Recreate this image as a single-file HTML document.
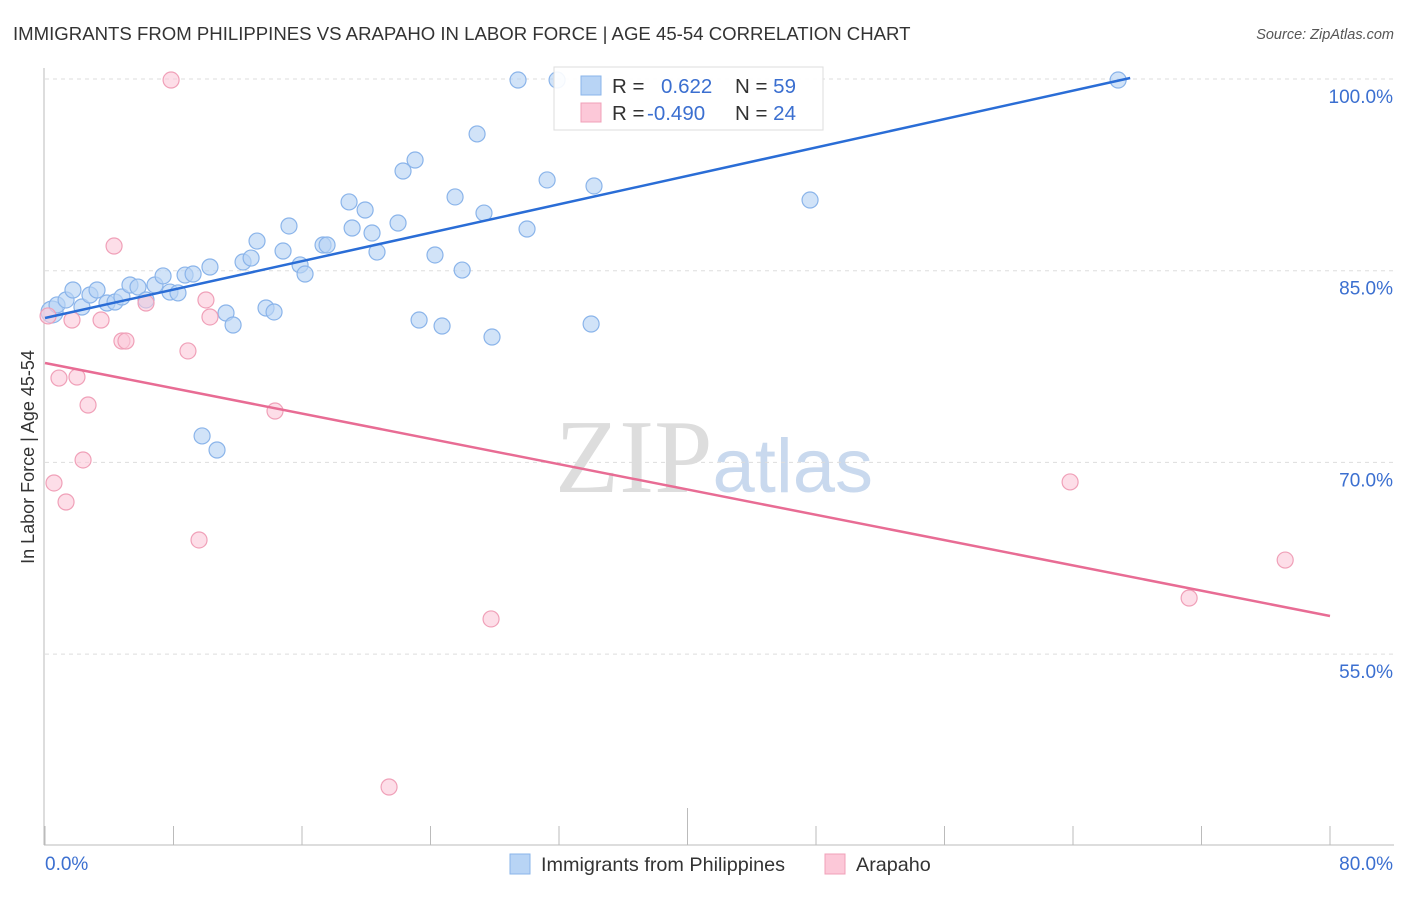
<!DOCTYPE html>
<html><head><meta charset="utf-8"><style>
body{margin:0;background:#fff;width:1406px;height:892px;overflow:hidden;font-family:"Liberation Sans",sans-serif}
</style></head><body>
<svg id="chart" width="1406" height="892" xmlns="http://www.w3.org/2000/svg">
<text x="13" y="40" font-size="18.6" fill="#333">IMMIGRANTS FROM PHILIPPINES VS ARAPAHO IN LABOR FORCE | AGE 45-54 CORRELATION CHART</text>
<text x="1394" y="39" font-size="14.5" fill="#555" text-anchor="end" font-style="italic">Source: ZipAtlas.com</text>
<text x="555" y="492" font-size="105" fill="#ddd" font-family="Liberation Serif,serif">ZIP<tspan fill="#c9d9ee" font-family="Liberation Sans,sans-serif" font-size="76">atlas</tspan></text>
<text transform="translate(34,457) rotate(-90)" font-size="18" fill="#333" text-anchor="middle">In Labor Force | Age 45-54</text>
<g id="grid"></g><g id="axes"></g><g id="marks"></g>
<g>
<rect x="554" y="67" width="269" height="63" fill="#fff" fill-opacity="0.9" stroke="#ddd"/>
<rect x="581" y="76" width="20" height="19" fill="#b8d4f5" stroke="#8ab4ea"/>
<rect x="581" y="103" width="20" height="19" fill="#fcc8d8" stroke="#f0a0b8"/>
<text x="612" y="93" font-size="20.5" fill="#333">R = <tspan fill="#3b6fd0" x="661">0.622</tspan><tspan fill="#333" x="735">N = </tspan><tspan fill="#3b6fd0">59</tspan></text>
<text x="612" y="120" font-size="20.5" fill="#333">R = <tspan fill="#3b6fd0" x="647">-0.490</tspan><tspan fill="#333" x="735">N = </tspan><tspan fill="#3b6fd0">24</tspan></text>
</g>
<g>
<rect x="510" y="854" width="20" height="20" fill="#b8d4f5" stroke="#8ab4ea"/>
<text x="541" y="871" font-size="19.8" fill="#333">Immigrants from Philippines</text>
<rect x="825" y="854" width="20" height="20" fill="#fcc8d8" stroke="#f0a0b8"/>
<text x="856" y="871" font-size="19.8" fill="#333">Arapaho</text>
</g>
</svg>
<script>
const blueX=[0.44,0.75,1.31,1.74,2.30,2.80,3.24,3.86,4.36,4.79,5.29,5.79,6.29,6.85,7.35,7.78,8.28,8.72,9.22,10.27,11.27,11.71,12.33,12.83,13.20,13.76,14.26,14.82,15.19,15.88,16.19,17.31,17.56,18.93,19.12,19.93,20.36,20.67,21.98,22.29,23.04,23.29,24.28,24.72,25.53,25.97,26.90,27.33,27.83,29.45,30.01,31.26,31.88,34.00,34.18,47.63,66.81,9.78,10.71];
const blueY=[81.77,82.32,82.71,83.49,82.16,83.10,83.49,82.47,82.55,82.94,83.88,83.72,82.71,83.88,84.59,83.33,83.26,84.66,84.74,85.29,81.69,80.75,85.68,85.99,87.32,82.08,81.77,86.54,88.50,85.45,84.74,87.01,87.01,90.38,88.34,89.75,87.95,86.46,88.73,92.80,93.66,81.14,86.23,80.67,90.77,85.05,95.70,89.51,79.81,99.92,88.26,92.10,99.92,80.83,91.63,90.53,99.92,72.07,70.97];
const pinkX=[0.19,0.56,0.87,1.31,1.68,1.99,2.37,2.68,3.49,4.30,4.79,5.04,6.29,7.85,8.90,9.59,10.02,10.27,14.32,21.42,27.77,63.82,71.23,77.21];
const pinkY=[81.46,68.39,76.60,66.90,81.14,76.68,70.19,74.49,81.14,86.93,79.50,79.50,82.47,99.92,78.72,63.93,82.71,81.38,74.02,44.60,57.75,68.47,59.39,62.36];
const blueTrend=[[0,81.30],[67.56,100.08]];
const pinkTrend=[[0,77.78],[80,57.98]];
const yTicks=[100,85,70,55];
const yTickLabels=["100.0%","85.0%","70.0%","55.0%"];
const NS="http://www.w3.org/2000/svg";
const sx=v=>45+v*16.0625, sy=v=>79+(100-v)*12.78;
function mk(tag,attrs,parent){const e=document.createElementNS(NS,tag);for(const k in attrs)e.setAttribute(k,attrs[k]);document.getElementById(parent).appendChild(e);return e;}
yTicks.forEach((t,i)=>{
 const g=mk('line',{x1:45,x2:1394,y1:sy(t),y2:sy(t),stroke:'#ddd','stroke-dasharray':'4,4'},'grid');
 
 
 const l=mk('text',{x:1393,y:sy(t)+24,'font-size':19,fill:'#3b6fd0','text-anchor':'end'},'axes');
 l.textContent=yTickLabels[i];
 
 
});
const ya=mk('line',{x1:44,x2:44,y1:68,y2:845,stroke:'#bbb'},'axes');


const xa=mk('line',{x1:44,x2:1394,y1:845,y2:845,stroke:'#bbb'},'axes');


for(let i=0;i<=10;i++){const v=i*8;const tk=mk('line',{x1:sx(v),x2:sx(v),y1:i==5?808:826,y2:845,stroke:'#bbb'},'axes');
 
 }
const x0=mk('text',{x:45,y:870,'font-size':19,fill:'#3b6fd0'},'axes');x0.textContent='0.0%';


const x1=mk('text',{x:1393,y:870,'font-size':19,fill:'#3b6fd0','text-anchor':'end'},'axes');x1.textContent='80.0%';


blueX.forEach((v,i)=>{const c=mk('circle',{cx:sx(v),cy:sy(blueY[i]),r:i==0?11:8,fill:'#b8d4f5','fill-opacity':0.65,stroke:'#8ab4ea','stroke-width':1.2},'marks');
 
 });
pinkX.forEach((v,i)=>{const c=mk('circle',{cx:sx(v),cy:sy(pinkY[i]),r:8,fill:'#fcc8d8','fill-opacity':0.6,stroke:'#f0a0b8','stroke-width':1.2},'marks');
 
 });
const bt=mk('line',{x1:sx(blueTrend[0][0]),y1:sy(blueTrend[0][1]),x2:sx(blueTrend[1][0]),y2:sy(blueTrend[1][1]),stroke:'#2a6dd6','stroke-width':2.5},'marks');


const pt=mk('line',{x1:sx(pinkTrend[0][0]),y1:sy(pinkTrend[0][1]),x2:sx(pinkTrend[1][0]),y2:sy(pinkTrend[1][1]),stroke:'#e86c94','stroke-width':2.5},'marks');


</script>
</body></html>
